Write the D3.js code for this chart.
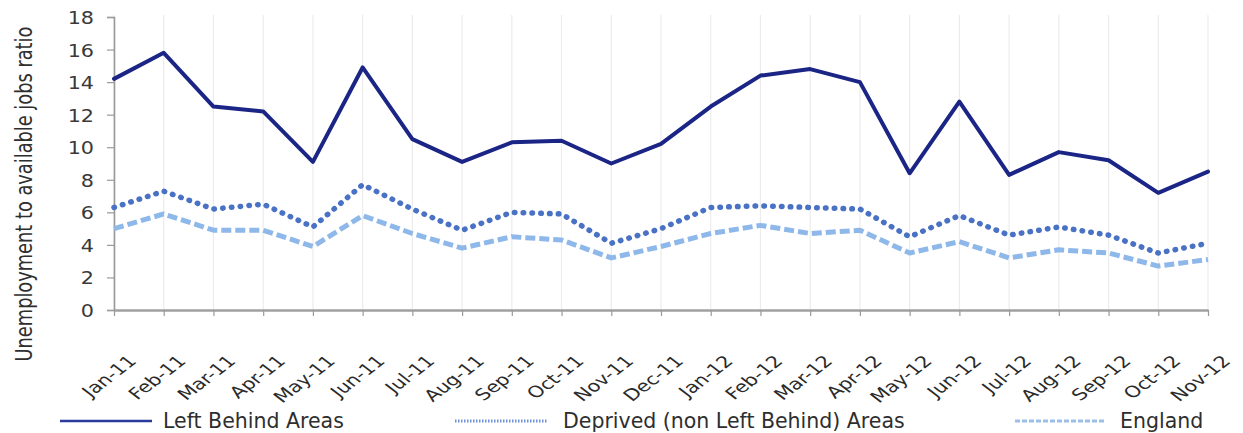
<!DOCTYPE html>
<html>
<head>
<meta charset="utf-8">
<script src="https://cdn.jsdelivr.net/npm/d3@7"></script>
<style>
  html, body { margin: 0; padding: 0; background: #ffffff; }
  svg { display: block; }
  text { font-family: "DejaVu Sans", Verdana, sans-serif; fill: #333333; }
</style>
</head>
<body>
<svg id="chart" width="1243" height="433"></svg>
<script>
// Monthly unemployment-to-available-jobs ratio, Jan 2011 – Nov 2012
const months = ["Jan-11","Feb-11","Mar-11","Apr-11","May-11","Jun-11","Jul-11","Aug-11","Sep-11","Oct-11","Nov-11","Dec-11",
                "Jan-12","Feb-12","Mar-12","Apr-12","May-12","Jun-12","Jul-12","Aug-12","Sep-12","Oct-12","Nov-12"];
const leftBehind = [14.2,15.8,12.5,12.2,9.1,14.9,10.5,9.1,10.3,10.4,9.0,10.2,12.5,14.4,14.8,14.0,8.4,12.8,8.3,9.7,9.2,7.2,8.5];
const deprived   = [6.3,7.3,6.2,6.5,5.1,7.7,6.2,4.9,6.0,5.9,4.1,5.0,6.3,6.4,6.3,6.2,4.5,5.8,4.6,5.1,4.6,3.5,4.1];
const england    = [5.0,5.9,4.9,4.9,3.9,5.8,4.7,3.8,4.5,4.3,3.2,3.9,4.7,5.2,4.7,4.9,3.5,4.2,3.2,3.7,3.5,2.7,3.1];
const yTicks = [0,2,4,6,8,10,12,14,16,18];
const seriesNames = ["Left Behind Areas","Deprived (non Left Behind) Areas","England"];

const svg = d3.select("#chart");
const plot = { left: 114, right: 1208, top: 17, bottom: 310 };

const x = d3.scalePoint().domain(months).range([plot.left, plot.right]);
const y = d3.scaleLinear().domain([0, 18]).range([plot.bottom, plot.top]);

// vertical gridlines at each month
svg.append("g").selectAll("line").data(months).join("line")
  .attr("x1", d => x(d)).attr("x2", d => x(d))
  .attr("y1", plot.top - 2).attr("y2", plot.bottom)
  .attr("stroke", "#ececec").attr("stroke-width", 1.2);

// y axis
const yAxis = svg.append("g").attr("transform", `translate(${plot.left},0)`)
  .call(d3.axisLeft(y).tickValues(yTicks).tickSize(7).tickPadding(0).tickFormat(d3.format("d")));
yAxis.select(".domain").attr("stroke", "#9a9a9a").attr("stroke-width", 1.6);
yAxis.selectAll(".tick line").attr("stroke", "#9a9a9a").attr("stroke-width", 1.2);
yAxis.selectAll(".tick text")
  .attr("x", 0).attr("dy", null)
  .attr("transform", "translate(-20,6.5) scale(1.15,1)")
  .attr("text-anchor", "end")
  .style("font-size", "18px").style("fill", "#3a3a3a");

// x axis
const xAxis = svg.append("g").attr("transform", `translate(0,${plot.bottom})`)
  .call(d3.axisBottom(x).tickSize(6).tickSizeOuter(0));
xAxis.select(".domain").attr("stroke", "#a0a0a0").attr("stroke-width", 2.4);
xAxis.selectAll(".tick line").attr("stroke", "#9a9a9a").attr("stroke-width", 1.2);
xAxis.selectAll(".tick text")
  .attr("x", null).attr("y", null).attr("dy", null)
  .attr("text-anchor", "end")
  .attr("transform", "translate(23,52) scale(1.3,1) rotate(-45)")
  .style("font-size", "16px").style("fill", "#2a2a2a");

// y axis title
svg.append("text")
  .attr("transform", "translate(32,194) scale(1.3,1) rotate(-90)")
  .attr("text-anchor", "middle")
  .style("font-size", "17.8px").style("fill", "#2e2e2e")
  .text("Unemployment to available jobs ratio");

// series lines
const line = d3.line().x((d, i) => x(months[i])).y(d => y(d));
const styles = [
  { data: leftBehind, color: "#1b2585", width: 4, dash: null, cap: "round" },
  { data: deprived,   color: "#4a72c4", width: 5.5, dash: "0.5 8.3", cap: "round" },
  { data: england,    color: "#8fb8ea", width: 5, dash: "10 4", cap: "butt" }
];
// draw lightest first so the dark line sits on top
[2, 1, 0].forEach(k => {
  const s = styles[k];
  svg.append("path").datum(s.data)
    .attr("d", line)
    .attr("fill", "none")
    .attr("stroke", s.color)
    .attr("stroke-width", s.width)
    .attr("stroke-linejoin", "round")
    .attr("stroke-linecap", s.cap)
    .attr("stroke-dasharray", s.dash);
});

// legend
const legendItems = [
  { x1: 60,   x2: 152,  tx: 163,  color: "#2a3a9e", width: 2.6, dash: null },
  { x1: 455,  x2: 547,  tx: 563,  color: "#6d92d8", width: 3,   dash: "1.5 1.5" },
  { x1: 1015, x2: 1105, tx: 1120, color: "#9cbfe9", width: 3,   dash: "5 2" }
];
const legend = svg.append("g");
legendItems.forEach((it, i) => {
  legend.append("line")
    .attr("x1", it.x1).attr("x2", it.x2).attr("y1", 421).attr("y2", 421)
    .attr("stroke", it.color).attr("stroke-width", it.width)
    .attr("stroke-dasharray", it.dash);
  legend.append("text")
    .attr("x", it.tx).attr("y", 428)
    .style("font-size", "20.5px").style("fill", "#2e2e2e")
    .text(seriesNames[i]);
});
</script>
</body>
</html>
